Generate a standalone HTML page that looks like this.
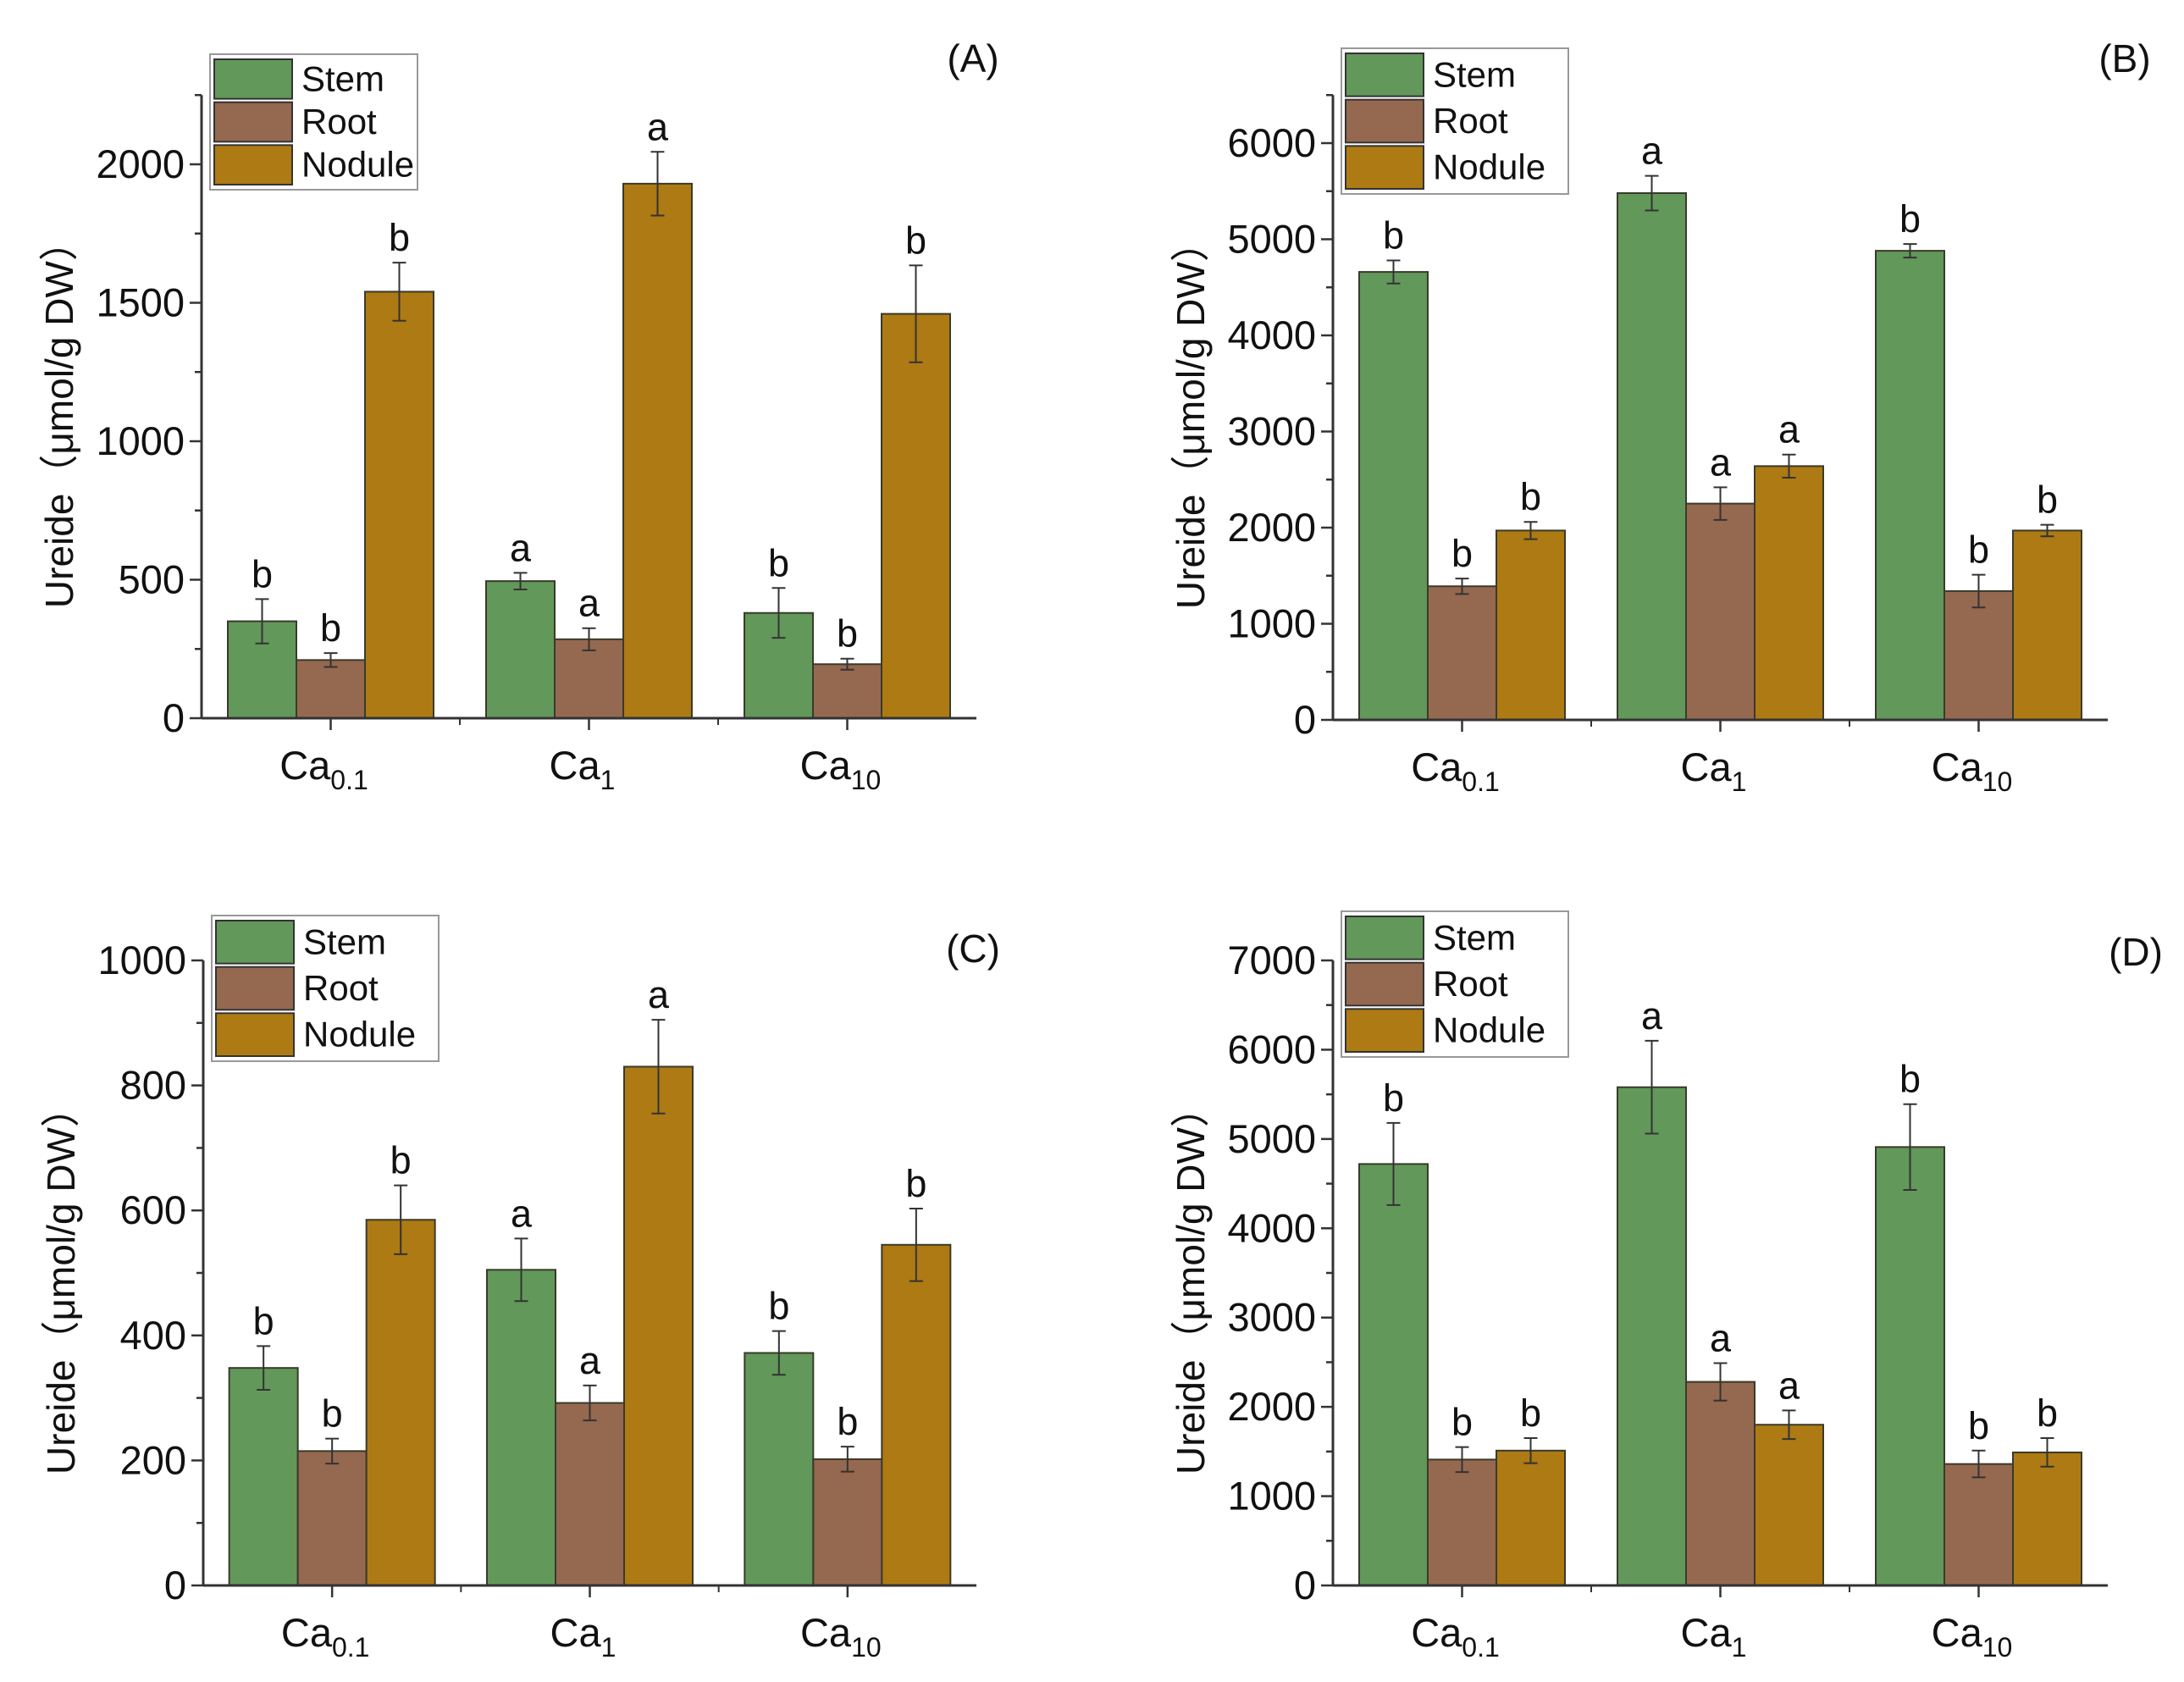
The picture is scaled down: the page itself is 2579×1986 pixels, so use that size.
<!DOCTYPE html>
<html><head><meta charset="utf-8">
<style>
html,body{margin:0;padding:0;background:#fff;}
svg{display:block;font-family:"Liberation Sans","Noto Sans CJK SC",sans-serif;}
</style></head>
<body>
<svg id="chart" width="2579" height="1986" viewBox="0 0 2579 1986" xmlns="http://www.w3.org/2000/svg"></svg>
<script>
const categories = ["Ca0.1", "Ca1", "Ca10"];
const seriesNames = ["Stem", "Root", "Nodule"];
const colors = ["#62985a", "#956850", "#ad7a13"];

const aStem = [350, 495, 380], aStemErr = [80, 30, 90];
const aRoot = [210, 285, 195], aRootErr = [25, 40, 20];
const aNod = [1540, 1930, 1460], aNodErr = [105, 115, 175];
const aSig = [["b","b","b"],["a","a","a"],["b","b","b"]];
const aTicks = [0, 500, 1000, 1500, 2000];

const bStem = [4660, 5480, 4880], bStemErr = [120, 180, 70];
const bRoot = [1390, 2250, 1340], bRootErr = [80, 170, 170];
const bNod = [1970, 2640, 1970], bNodErr = [90, 120, 60];
const bSig = [["b","b","b"],["a","a","a"],["b","b","b"]];
const bTicks = [0, 1000, 2000, 3000, 4000, 5000, 6000];

const cStem = [348, 505, 372], cStemErr = [35, 50, 35];
const cRoot = [215, 292, 202], cRootErr = [20, 28, 20];
const cNod = [585, 830, 545], cNodErr = [55, 75, 58];
const cSig = [["b","b","b"],["a","a","a"],["b","b","b"]];
const cTicks = [0, 200, 400, 600, 800, 1000];

const dStem = [4720, 5580, 4910], dStemErr = [460, 520, 480];
const dRoot = [1410, 2280, 1360], dRootErr = [140, 210, 150];
const dNod = [1510, 1800, 1490], dNodErr = [140, 160, 160];
const dSig = [["b","b","b"],["a","a","a"],["b","b","b"]];
const dTicks = [0, 1000, 2000, 3000, 4000, 5000, 6000, 7000];

const NS = "http://www.w3.org/2000/svg";
const svg = document.getElementById("chart");
function mk(tag, attrs, parent) {
  const e = document.createElementNS(NS, tag);
  for (const k in attrs) e.setAttribute(k, attrs[k]);
  (parent || svg).appendChild(e);
  return e;
}

const panels = [
  {id:"a", label:"(A)", x0:238, x1:1153, y0:848, yTopPx:113, vmax:2250, tickVal:2000, tickPx:194, minor:250, ticks:aTicks,
   vals:[aStem,aRoot,aNod], errs:[aStemErr,aRootErr,aNodErr], sig:aSig, leg:[248,64,493,224], lab:[1149,85]},
  {id:"b", label:"(B)", x0:1574, x1:2489, y0:850, yTopPx:113, vmax:6500, tickVal:6000, tickPx:169, minor:500, ticks:bTicks,
   vals:[bStem,bRoot,bNod], errs:[bStemErr,bRootErr,bNodErr], sig:bSig, leg:[1584,57,1852,229], lab:[2509,85]},
  {id:"c", label:"(C)", x0:240, x1:1153, y0:1872, yTopPx:1134, vmax:1000, tickVal:1000, tickPx:1134, minor:100, ticks:cTicks,
   vals:[cStem,cRoot,cNod], errs:[cStemErr,cRootErr,cNodErr], sig:cSig, leg:[250,1081,518,1253], lab:[1149,1136]},
  {id:"d", label:"(D)", x0:1574, x1:2489, y0:1872, yTopPx:1134, vmax:7000, tickVal:7000, tickPx:1134, minor:500, ticks:dTicks,
   vals:[dStem,dRoot,dNod], errs:[dStemErr,dRootErr,dNodErr], sig:dSig, leg:[1584,1076,1852,1248], lab:[2522,1140]}
];

panels.forEach(p => {
  const g = mk("g", {});
  
  
  const scale = (p.y0 - p.tickPx) / p.tickVal;
  const yS = v => p.y0 - v * scale;
  const topPx = p.y0 - p.vmax * scale;
  const catW = (p.x1 - p.x0) / categories.length;
  const barW = 81;

  categories.forEach((c, ci) => {
    const cx = p.x0 + catW * (ci + 0.5);
    for (let s = 0; s < 3; s++) {
      const v = p.vals[s][ci], e = p.errs[s][ci];
      const bx = cx + (s - 1.5) * barW;
      const r = mk("rect", {x:bx, y:yS(v), width:barW, height:p.y0 - yS(v), fill:colors[s], stroke:"#3a3a2a", "stroke-width":2}, g);
      
      
      const ex = bx + barW / 2;
      const eb = mk("path", {d:`M${ex},${yS(v+e)}V${yS(v-e)}M${ex-8},${yS(v+e)}H${ex+8}M${ex-8},${yS(v-e)}H${ex+8}`, stroke:"#333", "stroke-width":2, fill:"none"}, g);
      
      
      const t = mk("text", {x:ex, y:yS(v+e) - 14, "font-size":45, "text-anchor":"middle", fill:"#111"}, g);
      t.textContent = p.sig[ci][s];
      
      
    }
    const m = c.match(/^Ca(.*)$/);
    const tl = mk("text", {x:cx - 8, y:p.y0 + 72, "font-size":47, "text-anchor":"middle", fill:"#111"}, g);
    
    
    const t1 = mk("tspan", {}, tl); t1.textContent = "Ca";
    const t2 = mk("tspan", {"font-size":32, dy:12}, tl); t2.textContent = m[1];
    mk("line", {x1:cx, x2:cx, y1:p.y0, y2:p.y0 + 14, stroke:"#333", "stroke-width":2.5}, g);
    if (ci > 0) mk("line", {x1:p.x0 + catW * ci, x2:p.x0 + catW * ci, y1:p.y0, y2:p.y0 + 8, stroke:"#333", "stroke-width":2}, g);
  });

  const ya = mk("line", {x1:p.x0, x2:p.x0, y1:topPx, y2:p.y0, stroke:"#333", "stroke-width":3}, g);
  
  
  const xa = mk("line", {x1:p.x0, x2:p.x1, y1:p.y0, y2:p.y0, stroke:"#333", "stroke-width":3}, g);
  
  
  for (let v = 0; v <= p.vmax + 1e-6; v += p.minor) {
    const major = p.ticks.includes(v);
    mk("line", {x1:p.x0 - (major ? 14 : 8), x2:p.x0, y1:yS(v), y2:yS(v), stroke:"#333", "stroke-width":2.5}, g);
  }
  p.ticks.forEach(v => {
    const t = mk("text", {x:p.x0 - 20, y:yS(v) + 16, "font-size":47, "text-anchor":"end", fill:"#111"}, g);
    t.textContent = v;
    
    
  });
  const ty = (p.y0 + topPx) / 2 + 10;
  const tx = p.x0 - 152;
  const yt = mk("text", {x:tx, y:ty, "font-size":46, "text-anchor":"middle", fill:"#111", transform:`rotate(-90 ${tx} ${ty})`}, g);
  yt.textContent = "Ureide（μmol/g DW）";
  
  

  const [lx0, ly0, lx1, ly1] = p.leg;
  const lg = mk("g", {}, g);
  
  
  mk("rect", {x:lx0, y:ly0, width:lx1 - lx0, height:ly1 - ly0, fill:"#fff", stroke:"#999", "stroke-width":2}, lg);
  const rowH = (ly1 - ly0 - 8) / 3;
  seriesNames.forEach((n, i) => {
    const ry = ly0 + 4 + i * rowH;
    const sw = mk("rect", {x:lx0 + 5, y:ry + 2, width:92, height:rowH - 4, fill:colors[i], stroke:"#333", "stroke-width":2}, lg);
    
    
    const t = mk("text", {x:lx0 + 108, y:ry + rowH / 2 + 14, "font-size":42, fill:"#111"}, lg);
    t.textContent = n;
    
    
  });

  const pl = mk("text", {x:p.lab[0], y:p.lab[1], "font-size":46, "text-anchor":"middle", fill:"#111"}, g);
  pl.textContent = p.label;
  
  
});
</script>
</body></html>
